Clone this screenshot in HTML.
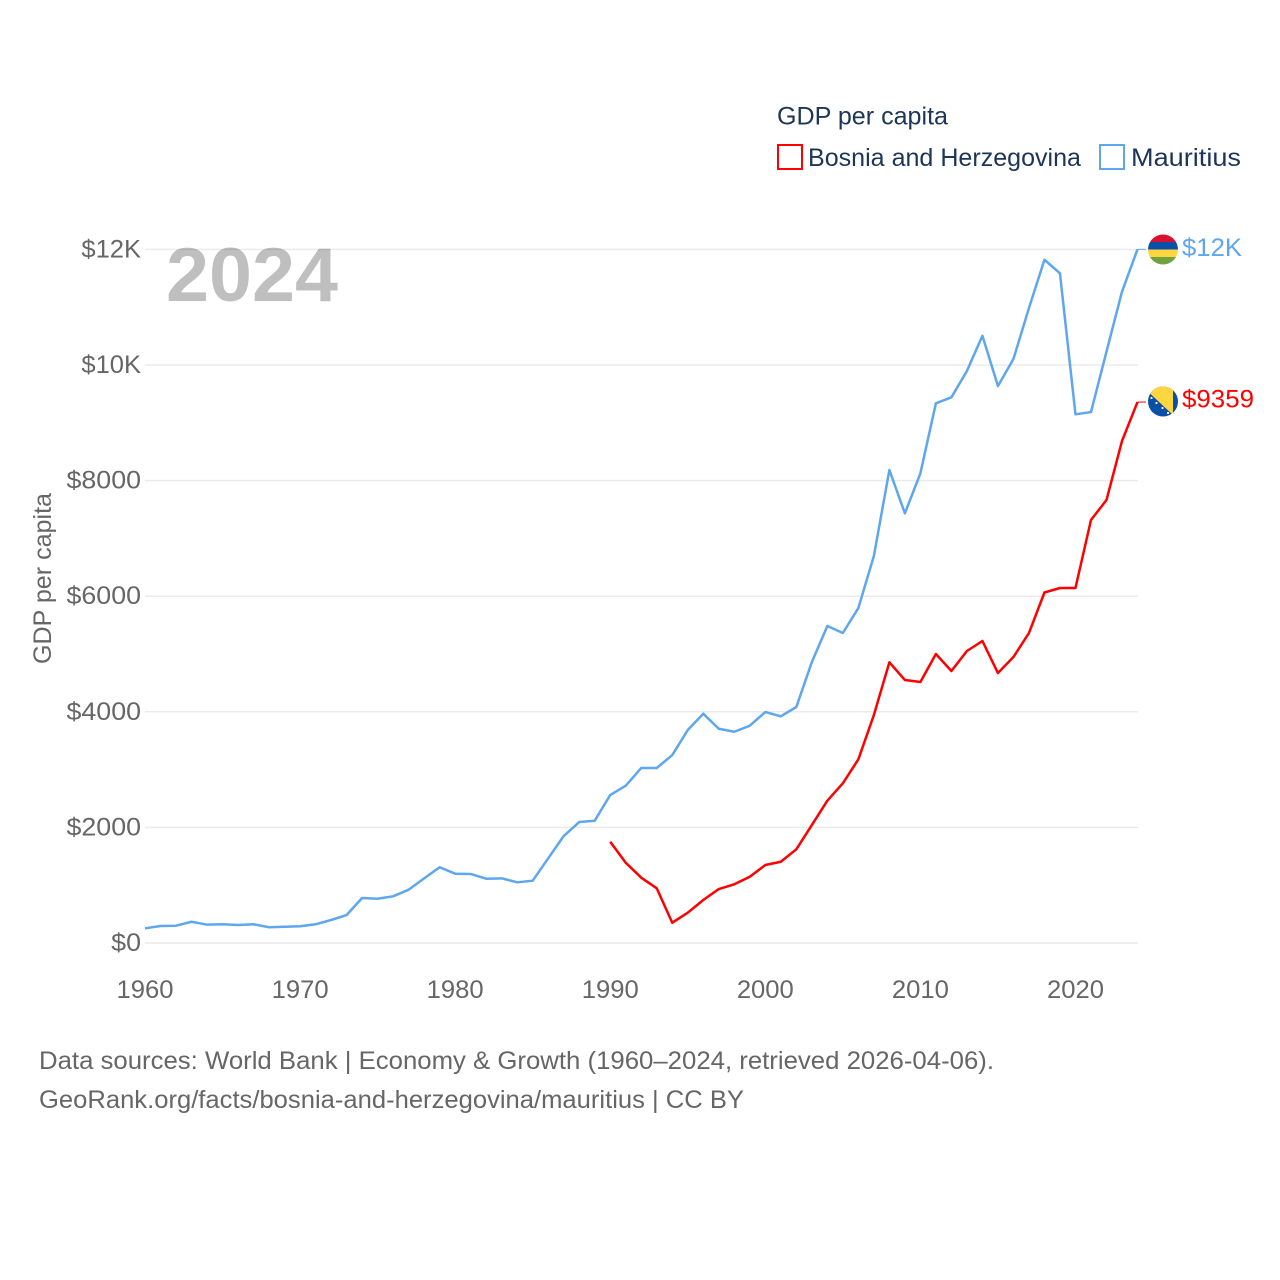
<!DOCTYPE html>
<html lang="en">
<head>
<meta charset="utf-8">
<title>GDP per capita: Bosnia and Herzegovina and Mauritius</title>
<style>
html,body{margin:0;padding:0;background:#fff;}
svg{display:block;font-family:"Liberation Sans",sans-serif;}
</style>
</head>
<body>
<svg id="chart" xmlns="http://www.w3.org/2000/svg" width="1280" height="1280" viewBox="0 0 1280 1280">
  <rect x="0" y="0" width="1280" height="1280" fill="#fff"/>
  <g id="grid"></g>
  <text x="166" y="301" font-size="76" font-weight="700" fill="#000" fill-opacity="0.25" textLength="172" lengthAdjust="spacingAndGlyphs">2024</text>
  <g id="yticks"></g>
  <g id="xticks"></g>
  <text transform="translate(51,578.5) rotate(-90)" text-anchor="middle" font-size="25" fill="#666" textLength="171" lengthAdjust="spacingAndGlyphs">GDP per capita</text>

  <g>
    <text x="777" y="124.5" font-size="25" fill="#1d3557" textLength="171" lengthAdjust="spacingAndGlyphs">GDP per capita</text>
    <g>
      <rect x="778" y="145" width="24" height="24" fill="#fff" stroke="#ff0000" stroke-width="2"/>
      <text x="808" y="166" font-size="25" fill="#1d3557" textLength="273" lengthAdjust="spacingAndGlyphs">Bosnia and Herzegovina</text>
    </g>
    <g>
      <rect x="1100" y="145" width="24" height="24" fill="#fff" stroke="#5ea6ee" stroke-width="2"/>
      <text x="1131" y="166" font-size="25" fill="#1d3557" textLength="110" lengthAdjust="spacingAndGlyphs">Mauritius</text>
    </g>
  </g>

  <g id="series"></g>

  <defs>
    <clipPath id="clip-mu"><circle cx="1163" cy="249.5" r="15"/></clipPath>
    <clipPath id="clip-ba"><circle cx="1163" cy="401.5" r="15"/></clipPath>
  </defs>
  <g id="flag-mu" clip-path="url(#clip-mu)">
    <rect x="1148" y="234" width="30" height="8" fill="#d9102f"/>
    <rect x="1148" y="242" width="30" height="7.5" fill="#0a4fa8"/>
    <rect x="1148" y="249.5" width="30" height="7.5" fill="#ffd640"/>
    <rect x="1148" y="257" width="30" height="8" fill="#72a23f"/>
  </g>
  <g id="flag-ba" clip-path="url(#clip-ba)">
    <rect x="1148" y="386" width="30" height="31" fill="#0a4fa8"/>
    <polygon points="1142,386 1173,386 1173,415" fill="#ffd640"/>
    <g fill="#fff">
      <circle cx="1151.5" cy="398" r="1.1"/>
      <circle cx="1156.5" cy="403" r="1.1"/>
      <circle cx="1162.5" cy="408" r="1.1"/>
      <circle cx="1168" cy="413" r="1.1"/>
    </g>
  </g>
  <text x="1182" y="256" font-size="25" fill="#5ea6ee" textLength="60" lengthAdjust="spacingAndGlyphs">$12K</text>
  <text x="1182" y="407.5" font-size="25" fill="#ff0000" textLength="72" lengthAdjust="spacingAndGlyphs">$9359</text>

  <text x="39" y="1069" font-size="25" fill="#666" textLength="955" lengthAdjust="spacingAndGlyphs">Data sources: World Bank | Economy &amp; Growth (1960–2024, retrieved 2026-04-06).</text>
  <text x="39" y="1108" font-size="25" fill="#666" textLength="705" lengthAdjust="spacingAndGlyphs">GeoRank.org/facts/bosnia-and-herzegovina/mauritius | CC BY</text>
</svg>
<script>
const yTickValues = [0, 2000, 4000, 6000, 8000, 10000, 12000];
const yTickLabels = ["$0", "$2000", "$4000", "$6000", "$8000", "$10K", "$12K"];
const xTickYears = [1960, 1970, 1980, 1990, 2000, 2010, 2020];
const xTickLabels = ["1960", "1970", "1980", "1990", "2000", "2010", "2020"];
const mauritiusStartYear = 1960;
const mauritiusValues = [254, 294, 299, 368, 317, 324, 311, 324, 272, 282, 289, 324, 398, 484, 778, 766, 808, 922, 1119, 1310, 1199, 1194, 1112, 1119, 1050, 1078, 1465, 1851, 2093, 2116, 2560, 2721, 3028, 3028, 3252, 3685, 3967, 3707, 3655, 3759, 3996, 3922, 4083, 4860, 5484, 5363, 5795, 6695, 8183, 7434, 8126, 9337, 9441, 9896, 10506, 9636, 10103, 10985, 11821, 11586, 9147, 9186, 10230, 11268, 12001];
const bosniaStartYear = 1990;
const bosniaValues = [1752, 1389, 1130, 946, 351, 524, 744, 934, 1016, 1147, 1349, 1406, 1621, 2041, 2462, 2763, 3178, 3944, 4856, 4550, 4515, 5000, 4706, 5052, 5225, 4671, 4948, 5363, 6064, 6142, 6142, 7318, 7664, 8685, 9359];

const NS = "http://www.w3.org/2000/svg";
const xOf = (year) => 145 + (year - 1960) * (1137.5 - 145) / 64;
const yOf = (value) => 943 - value * (943 - 249.4) / 12000;

const gridGroup = document.getElementById("grid");
const yTickGroup = document.getElementById("yticks");
yTickValues.forEach((value, i) => {
  const line = document.createElementNS(NS, "line");
  
  
  line.setAttribute("x1", 145);
  line.setAttribute("x2", 1138);
  line.setAttribute("y1", yOf(value));
  line.setAttribute("y2", yOf(value));
  line.setAttribute("stroke", "#ebebeb");
  line.setAttribute("stroke-width", 1.5);
  gridGroup.appendChild(line);

  const label = document.createElementNS(NS, "text");
  
  
  const text = yTickLabels[i];
  label.textContent = text;
  label.setAttribute("x", 141);
  label.setAttribute("y", yOf(value) + 8);
  label.setAttribute("text-anchor", "end");
  label.setAttribute("font-size", 25);
  label.setAttribute("fill", "#666");
  label.setAttribute("textLength", text.length * 14.9);
  label.setAttribute("lengthAdjust", "spacingAndGlyphs");
  yTickGroup.appendChild(label);
});

const xTickGroup = document.getElementById("xticks");
xTickYears.forEach((year, i) => {
  const label = document.createElementNS(NS, "text");
  
  
  label.textContent = xTickLabels[i];
  label.setAttribute("x", xOf(year));
  label.setAttribute("y", 998);
  label.setAttribute("text-anchor", "middle");
  label.setAttribute("font-size", 25);
  label.setAttribute("fill", "#666");
  label.setAttribute("textLength", 57);
  label.setAttribute("lengthAdjust", "spacingAndGlyphs");
  xTickGroup.appendChild(label);
});

const seriesGroup = document.getElementById("series");
function drawSeries(startYear, values, color) {
  const pts = values.map((v, i) => xOf(startYear + i).toFixed(2) + "," + yOf(v).toFixed(2)).join(" ");
  const poly = document.createElementNS(NS, "polyline");
  
  
  poly.setAttribute("points", pts);
  poly.setAttribute("fill", "none");
  poly.setAttribute("stroke", color);
  poly.setAttribute("stroke-width", 2.5);
  poly.setAttribute("stroke-linejoin", "round");
  seriesGroup.appendChild(poly);

  const lastY = yOf(values[values.length - 1]);
  const connector = document.createElementNS(NS, "line");
  
  
  connector.setAttribute("x1", xOf(startYear + values.length - 1));
  connector.setAttribute("x2", 1146);
  connector.setAttribute("y1", lastY);
  connector.setAttribute("y2", lastY);
  connector.setAttribute("stroke", color);
  connector.setAttribute("stroke-width", 1);
  seriesGroup.appendChild(connector);
}
drawSeries(mauritiusStartYear, mauritiusValues, "#5ea6ee");
drawSeries(bosniaStartYear, bosniaValues, "#ff0000");
</script>
</body>
</html>
